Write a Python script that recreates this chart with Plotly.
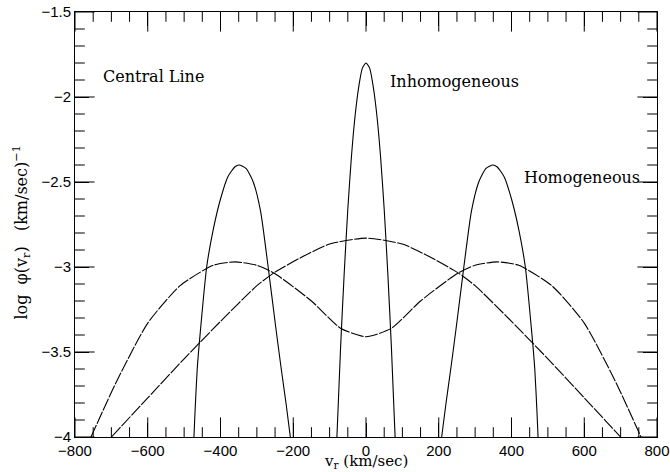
import plotly.graph_objects as go

# Narrow central line profile (inhomogeneous, solid)
inh_v = [-80, -70, -60, -50, -40, -30, -20, -10, 0, 10, 20, 30, 40, 50, 60, 70, 80]
inh_y = [-4.0, -3.48, -3.04, -2.66, -2.35, -2.11, -1.94, -1.83, -1.8,
         -1.83, -1.94, -2.11, -2.35, -2.66, -3.04, -3.48, -4.0]

# Homogeneous double-peaked profile (solid), left and right humps
homL_v = [-473, -470, -464, -455, -438, -420, -400, -380, -360, -349,
          -330, -310, -290, -269, -249, -233, -220, -208]
homL_y = [-4.0, -3.85, -3.6, -3.37, -3.0, -2.78, -2.6, -2.47, -2.41, -2.4,
          -2.42, -2.5, -2.67, -3.0, -3.34, -3.6, -3.8, -4.0]
homR_v = [208, 220, 233, 249, 269, 290, 310, 330, 349, 360,
          380, 400, 420, 438, 455, 464, 470, 473]
homR_y = [-4.0, -3.8, -3.6, -3.34, -3.0, -2.67, -2.5, -2.42, -2.4, -2.41,
          -2.47, -2.6, -2.78, -3.0, -3.37, -3.6, -3.85, -4.0]

# Broad single-hump profile (dashed)
one_v = [-700, -600, -500, -400, -300, -250, -175, -100, 0,
         100, 175, 250, 300, 400, 500, 600, 700]
one_y = [-4.0, -3.77, -3.54, -3.32, -3.11, -3.03, -2.94, -2.865, -2.83,
         -2.865, -2.94, -3.03, -3.11, -3.32, -3.54, -3.77, -4.0]

# Broad double-hump profile (dashed)
two_v = [-756, -685, -600, -511, -420, -360, -300, -250, -150, -70, 0,
         70, 150, 250, 300, 360, 420, 511, 600, 685, 756]
two_y = [-4.0, -3.67, -3.33, -3.11, -2.99, -2.97, -2.99, -3.04, -3.2, -3.36, -3.41,
         -3.36, -3.2, -3.04, -2.99, -2.97, -2.99, -3.11, -3.33, -3.67, -4.0]

labels = ["Central Line", "Inhomogeneous", "Homogeneous"]
label_x = [-728, 60, 428]
label_y = [-1.88, -1.91, -2.476]

# axis ranges and tick positions
x_range = [-800, 800]
y_range = [-4.0, -1.5]
x_major = [-800, -600, -400, -200, 0, 200, 400, 600, 800]
x_minor = [-750, -700, -650, -550, -500, -450, -350, -300, -250, -150, -100, -50,
           50, 100, 150, 250, 300, 350, 450, 500, 550, 650, 700, 750]
y_major = [-4.0, -3.5, -3.0, -2.5, -2.0, -1.5]
y_minor = [-3.9, -3.8, -3.7, -3.6, -3.4, -3.3, -3.2, -3.1, -2.9, -2.8, -2.7, -2.6,
           -2.4, -2.3, -2.2, -2.1, -1.9, -1.8, -1.7, -1.6]

x_title = "v<sub>r</sub> (km/sec)"
y_title = "log&nbsp;&nbsp;\u03c6(v<sub>r</sub>)&nbsp;&nbsp;&nbsp;(km/sec)<sup>\u22121</sup>"

SERIF = "DejaVu Serif"
SANS = "Liberation Sans"

fig = go.Figure()
solid = dict(color="black", width=1.1, shape="spline", smoothing=0.6)
dashed = dict(color="black", width=1.1, shape="spline", smoothing=0.6, dash="13px,1.5px")

fig.add_trace(go.Scatter(x=inh_v, y=inh_y, mode="lines", line=solid))
fig.add_trace(go.Scatter(x=homL_v, y=homL_y, mode="lines", line=solid))
fig.add_trace(go.Scatter(x=homR_v, y=homR_y, mode="lines", line=solid))
fig.add_trace(go.Scatter(x=one_v, y=one_y, mode="lines", line=dashed))
fig.add_trace(go.Scatter(x=two_v, y=two_y, mode="lines", line=dashed))


# inward tick marks on all four frame edges (clipped to the plot area, so only
# the inner half of each line marker shows)
def tick_trace(xs, ys, symbol, size):
    return go.Scatter(x=xs, y=ys, mode="markers", cliponaxis=True, hoverinfo="skip",
                      marker=dict(symbol=symbol, size=size, color="black",
                                  line=dict(color="black", width=1)))


fig.add_trace(tick_trace(x_major + x_major,
                         [y_range[0]] * len(x_major) + [y_range[1]] * len(x_major),
                         "line-ns-open", 28))
fig.add_trace(tick_trace(x_minor + x_minor,
                         [y_range[0]] * len(x_minor) + [y_range[1]] * len(x_minor),
                         "line-ns-open", 14))
fig.add_trace(tick_trace([x_range[0]] * len(y_major) + [x_range[1]] * len(y_major),
                         y_major + y_major, "line-ew-open", 28))
fig.add_trace(tick_trace([x_range[0]] * len(y_minor) + [x_range[1]] * len(y_minor),
                         y_minor + y_minor, "line-ew-open", 14))

for t, x, y in zip(labels, label_x, label_y):
    fig.add_annotation(x=x, y=y, text=t, showarrow=False, xanchor="left",
                       yanchor="middle", font=dict(family=SERIF, size=16, color="black"))

# axis titles as paper-anchored text
fig.add_annotation(x=0.5, y=-0.057, xref="paper", yref="paper", text=x_title,
                   showarrow=False, xanchor="center", yanchor="middle",
                   font=dict(family=SERIF, size=15, color="black"))
fig.add_annotation(x=-0.092, y=0.482, xref="paper", yref="paper", text=y_title,
                   showarrow=False, xanchor="center", yanchor="middle", textangle=-90,
                   font=dict(family=SERIF, size=16, color="black"))

fig.update_layout(
    template="none",
    font=dict(family=SANS, size=15, color="black"),
    xaxis=dict(range=x_range, dtick=200, ticks="inside", ticklen=14, showline=True,
               linecolor="black", tickcolor="black", mirror="ticks",
               showgrid=False, zeroline=False),
    yaxis=dict(range=y_range, dtick=0.5, ticks="inside", ticklen=14, showline=True,
               linecolor="black", tickcolor="black", mirror="ticks",
               showgrid=False, zeroline=False),
    width=670, height=472, showlegend=False,
    margin=dict(l=75, r=13, t=12, b=35),
)

fig.write_html("out.html")
